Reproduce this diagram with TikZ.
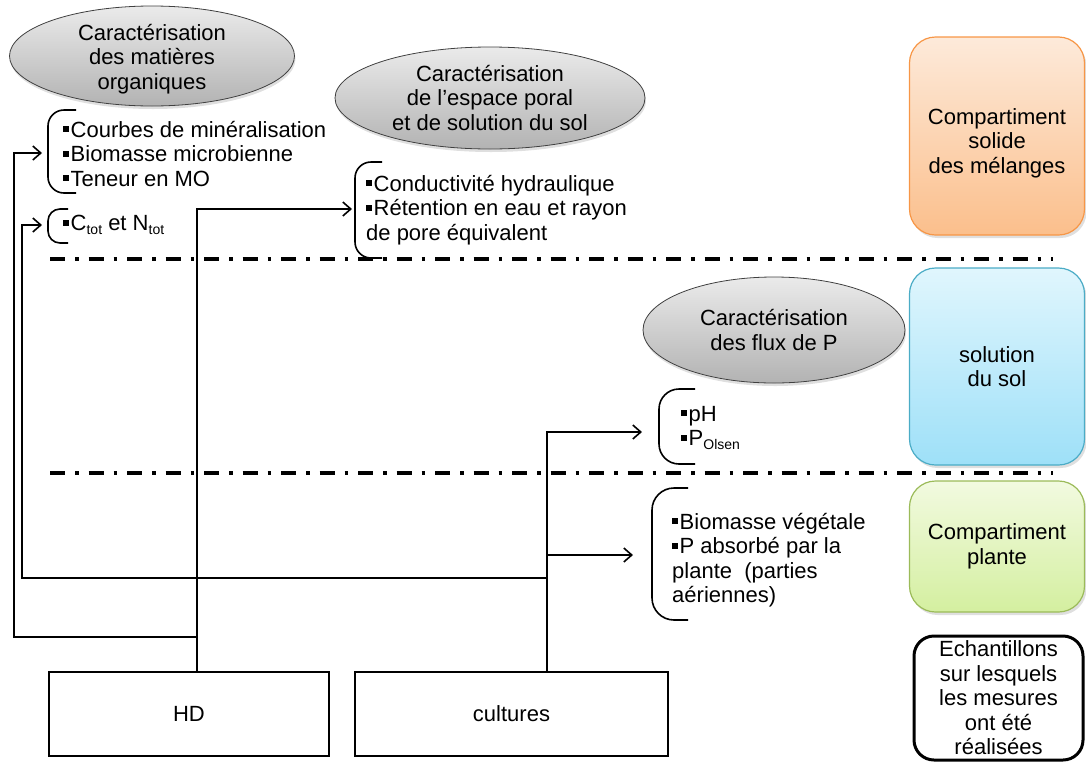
\documentclass[tikz,border=0pt]{standalone}
\usepackage{fontspec}
\setmainfont{Liberation Sans}
\usetikzlibrary{arrows.meta,shapes.geometric,shadows}
\newcommand\bul{\raisebox{5pt}{\rule{6pt}{6pt}}\hspace{1.5pt}}
\newcommand\sbs[1]{\raisebox{-4pt}{\fontsize{14}{14}\selectfont #1}}
\definecolor{orbord}{HTML}{F79646}
\definecolor{ortop}{HTML}{FDEADA}
\definecolor{orbot}{HTML}{FBBF8C}
\definecolor{blbord}{HTML}{4BACC6}
\definecolor{bltop}{HTML}{E0F6FD}
\definecolor{blbot}{HTML}{9EE0F8}
\definecolor{grbord}{HTML}{9BBB59}
\definecolor{grtop}{HTML}{F2FAE0}
\definecolor{grbot}{HTML}{D4EFA0}
\tikzset{
  txt/.style={font=\fontsize{22}{24.5}\selectfont, inner sep=0pt, align=center},
  ell/.style={ellipse, draw=black!75, line width=0.8pt, top color=black!8, bottom color=black!30,
     drop shadow={shadow xshift=1pt, shadow yshift=-3pt, opacity=0.25}, txt},
  comp/.style={rounded corners=26pt, line width=1.2pt, minimum width=175pt, txt,
     drop shadow={shadow xshift=2pt, shadow yshift=-3pt, opacity=0.25}},
  lst/.style={txt, align=left, anchor=west},
  brk/.style={line width=1.6pt, rounded corners=16pt},
  ddash/.style={line width=3.5pt, dash pattern=on 15pt off 10pt on 3.5pt off 10pt},
  box/.style={draw, line width=2.6pt, txt},
  wire/.style={line width=1.8pt},
  arr/.style={wire, -{Straight Barb[length=8pt,width=14pt,line width=1.6pt]}}
}
\begin{document}
\begin{tikzpicture}[x=1pt,y=-1pt]
\useasboundingbox (0,0) rectangle (1086,761);
% ellipses
\node[ell, minimum width=285pt, minimum height=100pt] (e1) at (152,56) {};
\node[txt] (e1t) at (152,59) {Caractérisation\\des matières\\organiques};
\node[ell, minimum width=310pt, minimum height=102pt] (e2) at (490,98) {Caractérisation\\de l’espace poral\\et de solution du sol};
\node[ell, minimum width=262pt, minimum height=106pt] (e3) at (774,330) {Caractérisation\\des flux de P};
% lists
\node[lst] (L1) at (63,154) {\bul Courbes de minéralisation\\\bul Biomasse microbienne\\\bul Teneur en MO};
\node[lst] (L2) at (63,225) {\bul C\sbs{tot} et N\sbs{tot}};
\node[lst] (L3) at (366,210) {\bul Conductivité hydraulique\\\bul Rétention en eau et rayon\\de pore équivalent};
\node[lst] (L4) at (681,428) {\bul pH\\\bul P\sbs{Olsen}};
\node[lst] (L5) at (672,560) {\bul Biomasse végétale\\\bul P absorbé par la\\plante\ \ (parties\\aériennes)};
% brackets
\draw[brk] (76,110) -- (48,110) -- (48,193) -- (76,193);
\draw[brk, rounded corners=12pt] (68,209) -- (48,209) -- (48,243) -- (68,243);
\draw[brk] (382,162) -- (355,162) -- (355,258) -- (382,258);
\draw[brk, rounded corners=20pt] (695,389) -- (659,389) -- (659,464) -- (695,464);
\draw[brk, rounded corners=22pt] (688,488) -- (652,488) -- (652,620) -- (688,620);
% separators
\draw[ddash] (50,259) -- (1053,259);
\draw[ddash] (50,473) -- (1053,473);
% compartments
\node[comp, draw=orbord, top color=ortop, bottom color=orbot, minimum height=198pt] (c1) at (997,136) {};
\node[txt] (c1t) at (997,143) {Compartiment\\solide\\des mélanges};
\node[comp, draw=blbord, top color=bltop, bottom color=blbot, minimum height=197pt] (c2) at (997,366.5) {solution\\du sol};
\node[comp, draw=grbord, top color=grtop, bottom color=grbot, minimum height=131pt] (c3) at (997,546.5) {Compartiment\\plante};
\node[draw, line width=3pt, rounded corners=20pt, txt, minimum width=169pt, minimum height=124pt] (ech) at (998.5,698) {Echantillons\\sur lesquels\\les mesures\\ont été\\réalisées};
% bottom boxes
\node[box, minimum width=280pt, minimum height=84pt] (HD) at (189,714) {HD};
\node[box, minimum width=313pt, minimum height=84pt] (cult) at (511.5,714) {cultures};
% arrow targets
\coordinate (a1) at (42,153);
\coordinate (a2) at (42,225);
\coordinate (a3) at (352,209);
\coordinate (a4) at (642,432);
\coordinate (a5) at (633,555);
\coordinate (hT) at ([xshift=8pt]HD.north);
\coordinate (cT) at ([xshift=35.5pt]cult.north);
% connectors
\draw[arr] (hT) -- (hT |- a3) -- (a3);
\draw[arr] (hT |- 0,637) -- (14,637) -- (14,153) -- (a1);
\draw[arr] (cT) -- (cT |- a4) -- (a4);
\draw[arr] (cT |- a5) -- (a5);
\draw[arr] (cT |- 0,578) -- (22,578) -- (22,225) -- (a2);
\end{tikzpicture}
\end{document}
